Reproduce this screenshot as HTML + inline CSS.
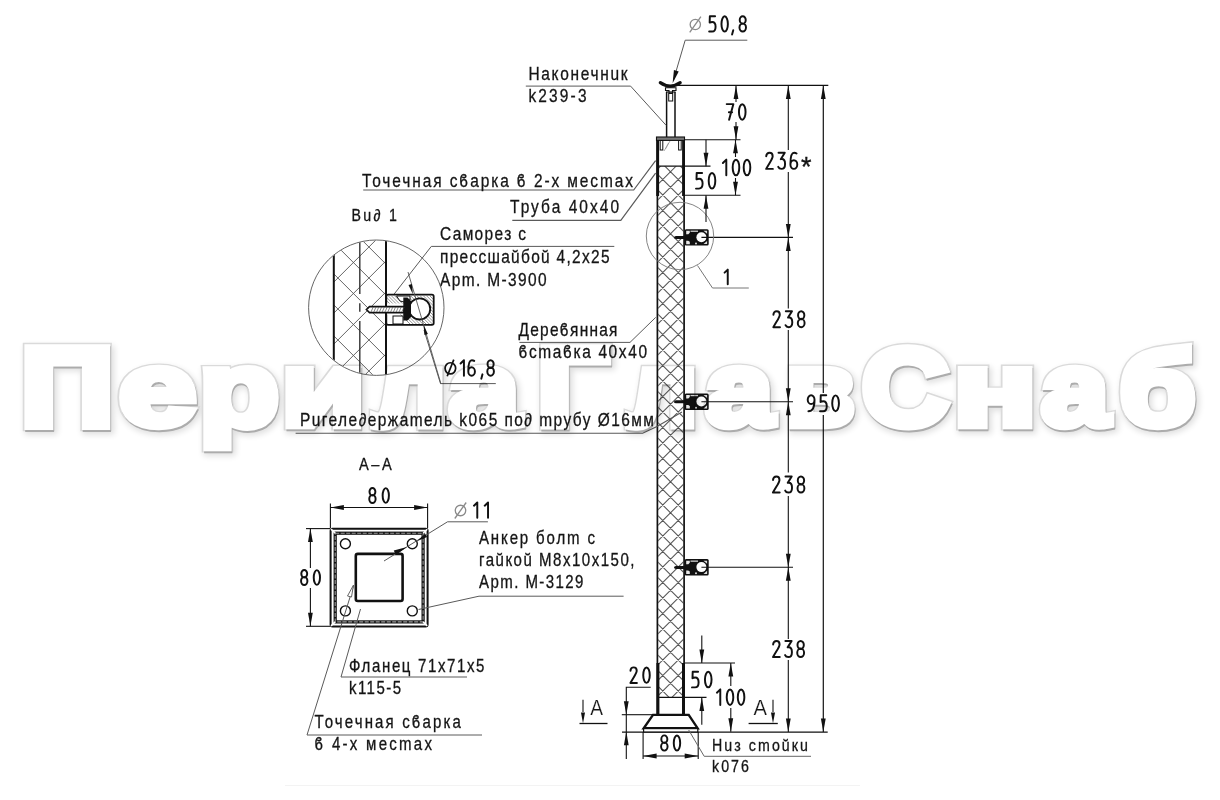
<!DOCTYPE html><html><head><meta charset="utf-8"><style>html,body{margin:0;padding:0;background:#fff;}svg{display:block;}text{font-family:"Liberation Sans",sans-serif;}</style></head><body><svg width="1220" height="800" viewBox="0 0 1220 800" font-family="Liberation Sans, sans-serif">
<rect width="1220" height="800" fill="#fff"/>
<defs><filter id="blur" x="-10%" y="-10%" width="120%" height="120%"><feGaussianBlur stdDeviation="3"/></filter></defs>
<defs><clipPath id="postclip"><rect x="658.2" y="166.2" width="25.2" height="231.2"/><rect x="658.2" y="397" width="25.2" height="300.4"/></clipPath>
<clipPath id="detclip"><circle cx="376.3" cy="307.7" r="67.2"/></clipPath></defs>
<path d="M335.3,166 L-198.7,700 M650,-189.7 L690,-149.7 M350.8,166 L-183.2,700 M650,-174.2 L690,-134.2 M366.3,166 L-167.7,700 M650,-158.7 L690,-118.7 M381.8,166 L-152.2,700 M650,-143.2 L690,-103.2 M397.3,166 L-136.7,700 M650,-127.7 L690,-87.7 M412.8,166 L-121.2,700 M650,-112.2 L690,-72.2 M428.3,166 L-105.7,700 M650,-96.7 L690,-56.7 M443.8,166 L-90.2,700 M650,-81.2 L690,-41.2 M459.3,166 L-74.7,700 M650,-65.7 L690,-25.7 M474.8,166 L-59.2,700 M650,-50.2 L690,-10.2 M490.3,166 L-43.7,700 M650,-34.7 L690,5.3 M505.8,166 L-28.2,700 M650,-19.2 L690,20.8 M521.3,166 L-12.7,700 M650,-3.7 L690,36.3 M536.8,166 L2.8,700 M650,11.8 L690,51.8 M552.3,166 L18.3,700 M650,27.3 L690,67.3 M567.8,166 L33.8,700 M650,42.8 L690,82.8 M583.3,166 L49.3,700 M650,58.3 L690,98.3 M598.8,166 L64.8,700 M650,73.8 L690,113.8 M614.3,166 L80.3,700 M650,89.3 L690,129.3 M629.8,166 L95.8,700 M650,104.8 L690,144.8 M645.3,166 L111.3,700 M650,120.3 L690,160.3 M660.8,166 L126.8,700 M650,135.8 L690,175.8 M676.3,166 L142.3,700 M650,151.3 L690,191.3 M691.8,166 L157.8,700 M650,166.8 L690,206.8 M707.3,166 L173.3,700 M650,182.3 L690,222.3 M722.8,166 L188.8,700 M650,197.8 L690,237.8 M738.3,166 L204.3,700 M650,213.3 L690,253.3 M753.8,166 L219.8,700 M650,228.8 L690,268.8 M769.3,166 L235.3,700 M650,244.3 L690,284.3 M784.8,166 L250.8,700 M650,259.8 L690,299.8 M800.3,166 L266.3,700 M650,275.3 L690,315.3 M815.8,166 L281.8,700 M650,290.8 L690,330.8 M831.3,166 L297.3,700 M650,306.3 L690,346.3 M846.8,166 L312.8,700 M650,321.8 L690,361.8 M862.3,166 L328.3,700 M650,337.3 L690,377.3 M877.8,166 L343.8,700 M650,352.8 L690,392.8 M893.3,166 L359.3,700 M650,368.3 L690,408.3 M908.8,166 L374.8,700 M650,383.8 L690,423.8 M924.3,166 L390.3,700 M650,399.3 L690,439.3 M939.8,166 L405.8,700 M650,414.8 L690,454.8 M955.3,166 L421.3,700 M650,430.3 L690,470.3 M970.8,166 L436.8,700 M650,445.8 L690,485.8 M986.3,166 L452.3,700 M650,461.3 L690,501.3 M1001.8,166 L467.8,700 M650,476.8 L690,516.8 M1017.3,166 L483.3,700 M650,492.3 L690,532.3 M1032.8,166 L498.8,700 M650,507.8 L690,547.8 M1048.3,166 L514.3,700 M650,523.3 L690,563.3 M1063.8,166 L529.8,700 M650,538.8 L690,578.8 M1079.3,166 L545.3,700 M650,554.3 L690,594.3 M1094.8,166 L560.8,700 M650,569.8 L690,609.8 M1110.3,166 L576.3,700 M650,585.3 L690,625.3 M1125.8,166 L591.8,700 M650,600.8 L690,640.8 M1141.3,166 L607.3,700 M650,616.3 L690,656.3 M1156.8,166 L622.8,700 M650,631.8 L690,671.8 M1172.3,166 L638.3,700 M650,647.3 L690,687.3 M1187.8,166 L653.8,700 M650,662.8 L690,702.8 M1203.3,166 L669.3,700 M650,678.3 L690,718.3 M1218.8,166 L684.8,700 M650,693.8 L690,733.8 M1234.3,166 L700.3,700 M650,709.3 L690,749.3 M1249.8,166 L715.8,700 M650,724.8 L690,764.8 M1265.3,166 L731.3,700 M650,740.3 L690,780.3 M1280.8,166 L746.8,700 M650,755.8 L690,795.8 M1296.3,166 L762.3,700 M650,771.3 L690,811.3 M1311.8,166 L777.8,700 M650,786.8 L690,826.8 M1327.3,166 L793.3,700 M650,802.3 L690,842.3 M1342.8,166 L808.8,700 M650,817.8 L690,857.8 M1358.3,166 L824.3,700 M650,833.3 L690,873.3 M1373.8,166 L839.8,700 M650,848.8 L690,888.8 M1389.3,166 L855.3,700 M650,864.3 L690,904.3 M1404.8,166 L870.8,700 M650,879.8 L690,919.8 M1420.3,166 L886.3,700 M650,895.3 L690,935.3 M1435.8,166 L901.8,700 M650,910.8 L690,950.8 M1451.3,166 L917.3,700 M650,926.3 L690,966.3 M1466.8,166 L932.8,700 M650,941.8 L690,981.8 M1482.3,166 L948.3,700 M650,957.3 L690,997.3 M1497.8,166 L963.8,700 M650,972.8 L690,1012.8 M1513.3,166 L979.3,700 M650,988.3 L690,1028.3 M1528.8,166 L994.8,700 M650,1003.8 L690,1043.8 M1544.3,166 L1010.3,700 M650,1019.3 L690,1059.3 M1559.8,166 L1025.8,700 M650,1034.8 L690,1074.8" stroke="#555" stroke-width="1.05" fill="none" clip-path="url(#postclip)"/>
<line x1="657.4" y1="137" x2="657.4" y2="731" stroke="#111" stroke-width="1.7" />
<line x1="684.1" y1="137" x2="684.1" y2="731" stroke="#111" stroke-width="1.7" />
<rect x="656.2" y="137" width="2.9" height="59" fill="#111"/>
<rect x="682.1" y="137" width="2.9" height="59" fill="#111"/>
<rect x="656.4" y="663" width="3" height="52" fill="#111"/>
<rect x="682" y="663" width="3" height="52" fill="#111"/>
<rect x="656.5" y="137" width="28" height="3.4" fill="#777" stroke="#111" stroke-width="1.1"/>
<rect x="660.2" y="140.5" width="2.6" height="9.5" fill="none" stroke="#111" stroke-width="1"/>
<rect x="678.6" y="140.5" width="2.6" height="9.5" fill="none" stroke="#111" stroke-width="1"/>
<line x1="670" y1="141" x2="664" y2="151" stroke="#888" stroke-width="0.7" />
<line x1="668.5" y1="143" x2="665.5" y2="149" stroke="#888" stroke-width="0.7" />
<line x1="657.4" y1="166.2" x2="710.5" y2="166.2" stroke="#111" stroke-width="1.2" />
<line x1="657.4" y1="697.4" x2="706.5" y2="697.4" stroke="#111" stroke-width="1.2" />
<line x1="685" y1="139.8" x2="740.5" y2="139.8" stroke="#111" stroke-width="1.1" />
<line x1="685" y1="195.2" x2="740.5" y2="195.2" stroke="#111" stroke-width="1.1" />
<line x1="685" y1="663" x2="735" y2="663" stroke="#111" stroke-width="1.1" />
<line x1="666.6" y1="92" x2="666.6" y2="137" stroke="#111" stroke-width="1.5" />
<line x1="675" y1="92" x2="675" y2="137" stroke="#111" stroke-width="1.5" />
<path d="M660.3,82.6 Q670.3,89.5 680.2,82.6" fill="none" stroke="#111" stroke-width="3.2" stroke-linecap="round"/>
<path d="M665.5,87.8 L676,87.8 L676,90.5 L672.5,90.5 L672.5,93 L669,93 L669,90.5 L665.5,90.5 Z" fill="none" stroke="#111" stroke-width="1.1"/>
<rect x="668.7" y="93.5" width="4" height="7.5" fill="none" stroke="#111" stroke-width="1"/>
<line x1="666" y1="92" x2="675.5" y2="92" stroke="#111" stroke-width="1.2" />
<rect x="684.6" y="229.2" width="24.1" height="16.4" rx="1.5" fill="#111"/>
<circle cx="701.4" cy="237.2" r="5" fill="#fff"/>
<path d="M686.2,230.8 l3.6,0 l0,2 l-1.5,1.5 l-2.1,0 z M686.2,244.2 l3.6,0 l0,-2.5 l-1.6,-1 l-2,0 z" fill="#e8e8e8"/>
<rect x="690.5" y="230.6" width="7.5" height="1.3" fill="#cfcfcf"/>
<circle cx="696" cy="243.4" r="1" fill="#ddd"/>
<path d="M703.5,230.8 l3.6,0 l0,3 z M707.1,240.9 l0,3.2 l-3.6,0 z" fill="#ddd"/>
<path d="M674,237.6 Q674,236.1 676,236 L685,236 L685,239 L676,239 Q674,239 674,237.6 Z" fill="#111"/>
<line x1="701.4" y1="237.4" x2="793" y2="237.4" stroke="#111" stroke-width="1.1" />
<rect x="684.6" y="393.5" width="24.1" height="16.4" rx="1.5" fill="#111"/>
<circle cx="701.4" cy="401.5" r="5" fill="#fff"/>
<path d="M686.2,395.1 l3.6,0 l0,2 l-1.5,1.5 l-2.1,0 z M686.2,408.5 l3.6,0 l0,-2.5 l-1.6,-1 l-2,0 z" fill="#e8e8e8"/>
<rect x="690.5" y="394.9" width="7.5" height="1.3" fill="#cfcfcf"/>
<circle cx="696" cy="407.7" r="1" fill="#ddd"/>
<path d="M703.5,395.1 l3.6,0 l0,3 z M707.1,405.2 l0,3.2 l-3.6,0 z" fill="#ddd"/>
<path d="M674,401.9 Q674,400.4 676,400.3 L685,400.3 L685,403.3 L676,403.3 Q674,403.3 674,401.9 Z" fill="#111"/>
<line x1="701.4" y1="401.7" x2="793" y2="401.7" stroke="#111" stroke-width="1.1" />
<rect x="684.6" y="559.1" width="24.1" height="16.4" rx="1.5" fill="#111"/>
<circle cx="701.4" cy="567.1" r="5" fill="#fff"/>
<path d="M686.2,560.7 l3.6,0 l0,2 l-1.5,1.5 l-2.1,0 z M686.2,574.1 l3.6,0 l0,-2.5 l-1.6,-1 l-2,0 z" fill="#e8e8e8"/>
<rect x="690.5" y="560.5" width="7.5" height="1.3" fill="#cfcfcf"/>
<circle cx="696" cy="573.3" r="1" fill="#ddd"/>
<path d="M703.5,560.7 l3.6,0 l0,3 z M707.1,570.8 l0,3.2 l-3.6,0 z" fill="#ddd"/>
<path d="M674,567.5 Q674,566 676,565.9 L685,565.9 L685,568.9 L676,568.9 Q674,568.9 674,567.5 Z" fill="#111"/>
<line x1="701.4" y1="567.3" x2="793" y2="567.3" stroke="#111" stroke-width="1.1" />
<circle cx="680" cy="236" r="33.7" fill="none" stroke="#777" stroke-width="0.9"/>
<polyline points="697.5,265.5 712.5,288 748.8,288" fill="none" stroke="#777" stroke-width="1" />
<g fill="none" stroke="#111" stroke-linecap="round" stroke-linejoin="round"><path transform="translate(722.54,268.75) scale(0.9286)" d="M2.2,4.2 L5.6,0.9 L5.6,16.6" stroke-width="2.100"/></g>
<line x1="672" y1="85.4" x2="828.3" y2="85.4" stroke="#111" stroke-width="1.2" />
<line x1="736" y1="85.4" x2="736" y2="102" stroke="#111" stroke-width="1.1" />
<line x1="736" y1="122" x2="736" y2="139.8" stroke="#111" stroke-width="1.1" />
<polygon points="736,85.4 738.4,98.9 733.6,98.9" fill="#111" stroke="none" stroke-width="0" />
<polygon points="736,139.8 733.6,126.3 738.4,126.3" fill="#111" stroke="none" stroke-width="0" />
<g fill="none" stroke="#111" stroke-linecap="round" stroke-linejoin="round"><path transform="translate(725.8,103.2) scale(1.0000)" d="M0.9,0.9 L7.6,0.9 L3.3,16.6 M3.1,9.0 L6.3,9.0" stroke-width="1.950"/><path transform="translate(738,103.2) scale(1.0000)" d="M0.95,8.75 A3.30,7.80 0 1 0 7.55,8.75 A3.30,7.80 0 1 0 0.95,8.75 Z" stroke-width="1.950"/></g>
<line x1="735.5" y1="139.8" x2="735.5" y2="157" stroke="#111" stroke-width="1.1" />
<line x1="735.5" y1="178" x2="735.5" y2="195.2" stroke="#111" stroke-width="1.1" />
<polygon points="735.5,139.8 737.9,153.3 733.1,153.3" fill="#111" stroke="none" stroke-width="0" />
<polygon points="735.5,195.2 733.1,181.7 737.9,181.7" fill="#111" stroke="none" stroke-width="0" />
<g fill="none" stroke="#111" stroke-linecap="round" stroke-linejoin="round"><path transform="translate(720.7,158.75) scale(1.0000)" d="M2.2,4.2 L5.6,0.9 L5.6,16.6" stroke-width="1.950"/><path transform="translate(731.73,158.75) scale(1.0000)" d="M0.95,8.75 A3.30,7.80 0 1 0 7.55,8.75 A3.30,7.80 0 1 0 0.95,8.75 Z" stroke-width="1.950"/><path transform="translate(742.75,158.75) scale(1.0000)" d="M0.95,8.75 A3.30,7.80 0 1 0 7.55,8.75 A3.30,7.80 0 1 0 0.95,8.75 Z" stroke-width="1.950"/></g>
<line x1="706" y1="139.8" x2="706" y2="166.2" stroke="#111" stroke-width="1.1" />
<line x1="706" y1="195.2" x2="706" y2="222" stroke="#111" stroke-width="1.1" />
<polygon points="706,166.2 703.6,152.7 708.4,152.7" fill="#111" stroke="none" stroke-width="0" />
<polygon points="706,195.2 708.4,208.7 703.6,208.7" fill="#111" stroke="none" stroke-width="0" />
<g fill="none" stroke="#111" stroke-linecap="round" stroke-linejoin="round"><path transform="translate(695,172) scale(1.0000)" d="M7.1,0.9 L1.7,0.9 L1.5,7.4 C2.3,7.0 3.2,6.8 4.1,6.8 C6.3,6.8 7.6,8.8 7.6,11.6 C7.6,14.8 6.0,16.6 4.0,16.6 L1.0,16.6" stroke-width="1.950"/><path transform="translate(707.75,172) scale(1.0000)" d="M0.95,8.75 A3.30,7.80 0 1 0 7.55,8.75 A3.30,7.80 0 1 0 0.95,8.75 Z" stroke-width="1.950"/></g>
<line x1="788.3" y1="85.4" x2="788.3" y2="150" stroke="#111" stroke-width="1.1" />
<line x1="788.3" y1="172" x2="788.3" y2="308.5" stroke="#111" stroke-width="1.1" />
<line x1="788.3" y1="330" x2="788.3" y2="472.5" stroke="#111" stroke-width="1.1" />
<line x1="788.3" y1="496" x2="788.3" y2="639" stroke="#111" stroke-width="1.1" />
<line x1="788.3" y1="660" x2="788.3" y2="732" stroke="#111" stroke-width="1.1" />
<polygon points="788.3,85.4 790.7,98.9 785.9,98.9" fill="#111" stroke="none" stroke-width="0" />
<polygon points="788.3,237.4 785.9,223.9 790.7,223.9" fill="#111" stroke="none" stroke-width="0" />
<polygon points="788.3,237.4 790.7,250.9 785.9,250.9" fill="#111" stroke="none" stroke-width="0" />
<polygon points="788.3,401.7 785.9,388.2 790.7,388.2" fill="#111" stroke="none" stroke-width="0" />
<polygon points="788.3,401.7 790.7,415.2 785.9,415.2" fill="#111" stroke="none" stroke-width="0" />
<polygon points="788.3,567.3 785.9,553.8 790.7,553.8" fill="#111" stroke="none" stroke-width="0" />
<polygon points="788.3,567.3 790.7,580.8 785.9,580.8" fill="#111" stroke="none" stroke-width="0" />
<polygon points="788.3,732 785.9,718.5 790.7,718.5" fill="#111" stroke="none" stroke-width="0" />
<g fill="none" stroke="#111" stroke-linecap="round" stroke-linejoin="round"><path transform="translate(765.1,151.9) scale(1.0229)" d="M1.1,4.3 C1.1,2.0 2.5,0.9 4.3,0.9 C6.2,0.9 7.4,2.2 7.4,4.2 C7.4,6.6 5.6,8.6 1.0,16.6 L7.6,16.6" stroke-width="1.906"/><path transform="translate(777.3,151.9) scale(1.0229)" d="M1.2,0.9 L7.3,0.9 L3.4,7.1 C3.8,7.0 4.1,7.0 4.4,7.0 C6.5,7.0 7.6,9.0 7.6,11.8 C7.6,14.8 6.0,16.6 4.1,16.6 C2.7,16.6 1.5,16.0 0.9,14.6" stroke-width="1.906"/><path transform="translate(789.51,151.9) scale(1.0229)" d="M6.9,1.6 C6.2,1.1 5.3,0.9 4.5,0.9 C2.2,0.9 0.9,4.5 0.9,11.6 M0.90,12.35 A3.35,4.25 0 1 0 7.60,12.35 A3.35,4.25 0 1 0 0.90,12.35 Z" stroke-width="1.906"/></g>
<text x="801" y="175.8" font-size="27" fill="#151515" stroke="#151515" stroke-width="0.35">*</text>
<g fill="none" stroke="#111" stroke-linecap="round" stroke-linejoin="round"><path transform="translate(772.3,310.4) scale(1.0114)" d="M1.1,4.3 C1.1,2.0 2.5,0.9 4.3,0.9 C6.2,0.9 7.4,2.2 7.4,4.2 C7.4,6.6 5.6,8.6 1.0,16.6 L7.6,16.6" stroke-width="1.928"/><path transform="translate(784.6,310.4) scale(1.0114)" d="M1.2,0.9 L7.3,0.9 L3.4,7.1 C3.8,7.0 4.1,7.0 4.4,7.0 C6.5,7.0 7.6,9.0 7.6,11.8 C7.6,14.8 6.0,16.6 4.1,16.6 C2.7,16.6 1.5,16.0 0.9,14.6" stroke-width="1.928"/><path transform="translate(796.9,310.4) scale(1.0114)" d="M1.15,4.80 A3.10,3.90 0 1 0 7.35,4.80 A3.10,3.90 0 1 0 1.15,4.80 Z M0.90,12.45 A3.35,4.15 0 1 0 7.60,12.45 A3.35,4.15 0 1 0 0.90,12.45 Z" stroke-width="1.928"/></g>
<g fill="none" stroke="#111" stroke-linecap="round" stroke-linejoin="round"><path transform="translate(771.9,475.6) scale(1.0229)" d="M1.1,4.3 C1.1,2.0 2.5,0.9 4.3,0.9 C6.2,0.9 7.4,2.2 7.4,4.2 C7.4,6.6 5.6,8.6 1.0,16.6 L7.6,16.6" stroke-width="1.906"/><path transform="translate(784.25,475.6) scale(1.0229)" d="M1.2,0.9 L7.3,0.9 L3.4,7.1 C3.8,7.0 4.1,7.0 4.4,7.0 C6.5,7.0 7.6,9.0 7.6,11.8 C7.6,14.8 6.0,16.6 4.1,16.6 C2.7,16.6 1.5,16.0 0.9,14.6" stroke-width="1.906"/><path transform="translate(796.61,475.6) scale(1.0229)" d="M1.15,4.80 A3.10,3.90 0 1 0 7.35,4.80 A3.10,3.90 0 1 0 1.15,4.80 Z M0.90,12.45 A3.35,4.15 0 1 0 7.60,12.45 A3.35,4.15 0 1 0 0.90,12.45 Z" stroke-width="1.906"/></g>
<g fill="none" stroke="#111" stroke-linecap="round" stroke-linejoin="round"><path transform="translate(772,640.1) scale(1.0229)" d="M1.1,4.3 C1.1,2.0 2.5,0.9 4.3,0.9 C6.2,0.9 7.4,2.2 7.4,4.2 C7.4,6.6 5.6,8.6 1.0,16.6 L7.6,16.6" stroke-width="1.906"/><path transform="translate(784.15,640.1) scale(1.0229)" d="M1.2,0.9 L7.3,0.9 L3.4,7.1 C3.8,7.0 4.1,7.0 4.4,7.0 C6.5,7.0 7.6,9.0 7.6,11.8 C7.6,14.8 6.0,16.6 4.1,16.6 C2.7,16.6 1.5,16.0 0.9,14.6" stroke-width="1.906"/><path transform="translate(796.31,640.1) scale(1.0229)" d="M1.15,4.80 A3.10,3.90 0 1 0 7.35,4.80 A3.10,3.90 0 1 0 1.15,4.80 Z M0.90,12.45 A3.35,4.15 0 1 0 7.60,12.45 A3.35,4.15 0 1 0 0.90,12.45 Z" stroke-width="1.906"/></g>
<line x1="823.3" y1="85.4" x2="823.3" y2="393" stroke="#111" stroke-width="1.2" />
<line x1="823.3" y1="415" x2="823.3" y2="732" stroke="#111" stroke-width="1.2" />
<polygon points="823.3,85.4 825.7,98.9 820.9,98.9" fill="#111" stroke="none" stroke-width="0" />
<polygon points="823.3,732 820.9,718.5 825.7,718.5" fill="#111" stroke="none" stroke-width="0" />
<g fill="none" stroke="#111" stroke-linecap="round" stroke-linejoin="round"><path transform="translate(806.8,394.4) scale(1.0171)" d="M0.90,5.15 A3.35,4.25 0 1 0 7.60,5.15 A3.35,4.25 0 1 0 0.90,5.15 Z M7.6,5.2 C7.6,12.5 5.8,16.6 1.6,16.6" stroke-width="1.917"/><path transform="translate(819.03,394.4) scale(1.0171)" d="M7.1,0.9 L1.7,0.9 L1.5,7.4 C2.3,7.0 3.2,6.8 4.1,6.8 C6.3,6.8 7.6,8.8 7.6,11.6 C7.6,14.8 6.0,16.6 4.0,16.6 L1.0,16.6" stroke-width="1.917"/><path transform="translate(831.25,394.4) scale(1.0171)" d="M0.95,8.75 A3.30,7.80 0 1 0 7.55,8.75 A3.30,7.80 0 1 0 0.95,8.75 Z" stroke-width="1.917"/></g>
<line x1="622" y1="732.2" x2="827.7" y2="732.2" stroke="#111" stroke-width="1.2" />
<polygon points="653,714.9 688.7,714.9 697.6,728.2 643.7,728.2" fill="#fff" stroke="#111" stroke-width="2.4" />
<rect x="643.6" y="728.6" width="54.2" height="3.4" fill="#fff" stroke="#111" stroke-width="1.2"/>
<line x1="701.8" y1="635.6" x2="701.8" y2="663" stroke="#111" stroke-width="1.1" />
<line x1="701.8" y1="697.4" x2="701.8" y2="724.7" stroke="#111" stroke-width="1.1" />
<polygon points="701.8,663 699.4,649.5 704.2,649.5" fill="#111" stroke="none" stroke-width="0" />
<polygon points="701.8,697.4 704.2,710.9 699.4,710.9" fill="#111" stroke="none" stroke-width="0" />
<g fill="none" stroke="#111" stroke-linecap="round" stroke-linejoin="round"><path transform="translate(691,670.8) scale(1.0000)" d="M7.1,0.9 L1.7,0.9 L1.5,7.4 C2.3,7.0 3.2,6.8 4.1,6.8 C6.3,6.8 7.6,8.8 7.6,11.6 C7.6,14.8 6.0,16.6 4.0,16.6 L1.0,16.6" stroke-width="1.950"/><path transform="translate(704,670.8) scale(1.0000)" d="M0.95,8.75 A3.30,7.80 0 1 0 7.55,8.75 A3.30,7.80 0 1 0 0.95,8.75 Z" stroke-width="1.950"/></g>
<line x1="730.8" y1="663" x2="730.8" y2="686" stroke="#111" stroke-width="1.1" />
<line x1="730.8" y1="708" x2="730.8" y2="731.8" stroke="#111" stroke-width="1.1" />
<polygon points="730.8,663 733.2,676.5 728.4,676.5" fill="#111" stroke="none" stroke-width="0" />
<polygon points="730.8,731.8 728.4,718.3 733.2,718.3" fill="#111" stroke="none" stroke-width="0" />
<g fill="none" stroke="#111" stroke-linecap="round" stroke-linejoin="round"><path transform="translate(714.71,688.5) scale(0.9943)" d="M2.2,4.2 L5.6,0.9 L5.6,16.6" stroke-width="1.961"/><path transform="translate(725.78,688.5) scale(0.9943)" d="M0.95,8.75 A3.30,7.80 0 1 0 7.55,8.75 A3.30,7.80 0 1 0 0.95,8.75 Z" stroke-width="1.961"/><path transform="translate(736.85,688.5) scale(0.9943)" d="M0.95,8.75 A3.30,7.80 0 1 0 7.55,8.75 A3.30,7.80 0 1 0 0.95,8.75 Z" stroke-width="1.961"/></g>
<line x1="621.8" y1="714.7" x2="653" y2="714.7" stroke="#111" stroke-width="1.1" />
<polyline points="650.7,687.2 626.3,687.2 626.3,714.7" fill="none" stroke="#111" stroke-width="1.1" />
<polygon points="626.3,714.7 623.9,701.2 628.7,701.2" fill="#111" stroke="none" stroke-width="0" />
<line x1="626.3" y1="714.7" x2="626.3" y2="759" stroke="#111" stroke-width="1.1" />
<polygon points="626.3,731.8 628.7,745.3 623.9,745.3" fill="#111" stroke="none" stroke-width="0" />
<g fill="none" stroke="#111" stroke-linecap="round" stroke-linejoin="round"><path transform="translate(629.4,666.5) scale(0.9886)" d="M1.1,4.3 C1.1,2.0 2.5,0.9 4.3,0.9 C6.2,0.9 7.4,2.2 7.4,4.2 C7.4,6.6 5.6,8.6 1.0,16.6 L7.6,16.6" stroke-width="1.973"/><path transform="translate(642.3,666.5) scale(0.9886)" d="M0.95,8.75 A3.30,7.80 0 1 0 7.55,8.75 A3.30,7.80 0 1 0 0.95,8.75 Z" stroke-width="1.973"/></g>
<line x1="579.5" y1="723.5" x2="607.5" y2="723.5" stroke="#111" stroke-width="1.3" />
<line x1="583" y1="699.7" x2="583" y2="712" stroke="#111" stroke-width="1.1" />
<polygon points="583,723.5 581,712.5 585,712.5" fill="#111" stroke="none" stroke-width="0" />
<text x="590.2" y="714.5" font-size="22" fill="#151515" stroke="#fff" stroke-width="0.2" textLength="12.8" lengthAdjust="spacingAndGlyphs" >А</text>
<line x1="748.6" y1="723.5" x2="777.8" y2="723.5" stroke="#111" stroke-width="1.3" />
<line x1="773" y1="699.7" x2="773" y2="712" stroke="#111" stroke-width="1.1" />
<polygon points="773,723.5 771,712.5 775,712.5" fill="#111" stroke="none" stroke-width="0" />
<text x="753.5" y="714.5" font-size="22" fill="#151515" stroke="#fff" stroke-width="0.2" textLength="13.5" lengthAdjust="spacingAndGlyphs" >А</text>
<line x1="643.1" y1="732" x2="643.1" y2="759" stroke="#111" stroke-width="1.1" />
<line x1="698.2" y1="732" x2="698.2" y2="759" stroke="#111" stroke-width="1.1" />
<line x1="643.1" y1="756" x2="698.2" y2="756" stroke="#111" stroke-width="1.1" />
<polygon points="643.1,756 656.6,753.6 656.6,758.4" fill="#111" stroke="none" stroke-width="0" />
<polygon points="698.2,756 684.7,758.4 684.7,753.6" fill="#111" stroke="none" stroke-width="0" />
<g fill="none" stroke="#111" stroke-linecap="round" stroke-linejoin="round"><path transform="translate(660.2,734.5) scale(0.9714)" d="M1.15,4.80 A3.10,3.90 0 1 0 7.35,4.80 A3.10,3.90 0 1 0 1.15,4.80 Z M0.90,12.45 A3.35,4.15 0 1 0 7.60,12.45 A3.35,4.15 0 1 0 0.90,12.45 Z" stroke-width="2.007"/><path transform="translate(672.84,734.5) scale(0.9714)" d="M0.95,8.75 A3.30,7.80 0 1 0 7.55,8.75 A3.30,7.80 0 1 0 0.95,8.75 Z" stroke-width="2.007"/></g>
<polyline points="688.7,730 704.2,756.3 811,756.3" fill="none" stroke="#666" stroke-width="1" />
<text transform="translate(712,750.8) scale(0.86,1)" x="0" y="0" font-size="16.5" fill="#151515" stroke="#151515" stroke-width="0.3" textLength="111.63" lengthAdjust="spacing" >Нuз сmоŭкu</text>
<text transform="translate(712,771.5) scale(0.86,1)" x="0" y="0" font-size="16.5" fill="#151515" stroke="#151515" stroke-width="0.3" textLength="43.02" lengthAdjust="spacing" >k076</text>
<circle cx="695.3" cy="24.5" r="5.15" fill="none" stroke="#8a8a8a" stroke-width="1.3"/>
<line x1="700.9" y1="16.6" x2="689.7" y2="32.4" stroke="#8a8a8a" stroke-width="1.3" />
<g fill="none" stroke="#111" stroke-linecap="round" stroke-linejoin="round"><path transform="translate(708.2,15.4) scale(0.9714)" d="M7.1,0.9 L1.7,0.9 L1.5,7.4 C2.3,7.0 3.2,6.8 4.1,6.8 C6.3,6.8 7.6,8.8 7.6,11.6 C7.6,14.8 6.0,16.6 4.0,16.6 L1.0,16.6" stroke-width="2.007"/><path transform="translate(720.54,15.4) scale(0.9714)" d="M0.95,8.75 A3.30,7.80 0 1 0 7.55,8.75 A3.30,7.80 0 1 0 0.95,8.75 Z" stroke-width="2.007"/></g>
<path transform="translate(731.3,15.4) scale(0.9714)" d="M2.0,15.2 L0.8,19.6" fill="none" stroke="#111" stroke-width="2.007" stroke-linecap="round" stroke-linejoin="round"/>
<path transform="translate(738.6,15.4) scale(0.9714)" d="M1.15,4.80 A3.10,3.90 0 1 0 7.35,4.80 A3.10,3.90 0 1 0 1.15,4.80 Z M0.90,12.45 A3.35,4.15 0 1 0 7.60,12.45 A3.35,4.15 0 1 0 0.90,12.45 Z" fill="none" stroke="#111" stroke-width="2.007" stroke-linecap="round" stroke-linejoin="round"/>
<polyline points="747.3,40.2 685.2,40.2 673.5,80" fill="none" stroke="#5a5a5a" stroke-width="1" />
<polygon points="672.6,83.2 673.94,70.03 678.73,71.47" fill="#111" stroke="none" stroke-width="0" />
<polyline points="630.6,86.1 525.8,86.1" fill="none" stroke="#5a5a5a" stroke-width="1" />
<line x1="630.6" y1="86.1" x2="666" y2="125.2" stroke="#5a5a5a" stroke-width="1" />
<text transform="translate(528.5,80) scale(0.86,1)" x="0" y="0" font-size="18" fill="#151515" stroke="#151515" stroke-width="0.3" textLength="115.12" lengthAdjust="spacing" >Наконечнuк</text>
<text transform="translate(528.5,102.4) scale(0.86,1)" x="0" y="0" font-size="18" fill="#151515" stroke="#151515" stroke-width="0.3" textLength="67.44" lengthAdjust="spacing" >k239-3</text>
<polyline points="363.2,190 633.7,190 655.6,160.6" fill="none" stroke="#5a5a5a" stroke-width="1.2" />
<text transform="translate(362,186.7) scale(0.86,1)" x="0" y="0" font-size="18" fill="#151515" stroke="#151515" stroke-width="0.3" textLength="315.12" lengthAdjust="spacing" >Точечная сϐарка ϐ 2-х месmах</text>
<polyline points="512.3,220.4 620.8,220.4 655.6,173.1" fill="none" stroke="#5a5a5a" stroke-width="1.2" />
<text transform="translate(510,212.6) scale(0.86,1)" x="0" y="0" font-size="18" fill="#151515" stroke="#151515" stroke-width="0.3" textLength="126.74" lengthAdjust="spacing" >Труба 40x40</text>
<text transform="translate(351.5,221) scale(0.86,1)" x="0" y="0" font-size="16.5" fill="#151515" stroke="#151515" stroke-width="0.3" textLength="52.91" lengthAdjust="spacing" >Вu∂ 1</text>
<polyline points="614.3,246.4 431.3,246.4 392,296.8" fill="none" stroke="#5a5a5a" stroke-width="1" />
<text transform="translate(440,240) scale(0.86,1)" x="0" y="0" font-size="18" fill="#151515" stroke="#151515" stroke-width="0.3" textLength="100" lengthAdjust="spacing" >Саморез с</text>
<text transform="translate(440,263.3) scale(0.86,1)" x="0" y="0" font-size="18" fill="#151515" stroke="#151515" stroke-width="0.3" textLength="197.09" lengthAdjust="spacing" >прессшаŭбоŭ 4,2x25</text>
<text transform="translate(440,285.6) scale(0.86,1)" x="0" y="0" font-size="18" fill="#151515" stroke="#151515" stroke-width="0.3" textLength="123.84" lengthAdjust="spacing" >Арm. М-3900</text>
<polyline points="519.4,342.4 630,342.4 655.7,317.4" fill="none" stroke="#5a5a5a" stroke-width="1" />
<text transform="translate(518.5,335.9) scale(0.86,1)" x="0" y="0" font-size="18" fill="#151515" stroke="#151515" stroke-width="0.3" textLength="115.12" lengthAdjust="spacing" >Дереϐянная</text>
<text transform="translate(518.5,358.4) scale(0.86,1)" x="0" y="0" font-size="18" fill="#151515" stroke="#151515" stroke-width="0.3" textLength="149.42" lengthAdjust="spacing" >ϐсmаϐка 40x40</text>
<polyline points="495.8,383.6 440.5,383.6 424,330" fill="none" stroke="#5a5a5a" stroke-width="1" />
<ellipse cx="450.35" cy="368.35" rx="5.3" ry="5.6" fill="none" stroke="#111" stroke-width="1.7"/>
<line x1="453.8" y1="359.6" x2="447.2" y2="376.2" stroke="#111" stroke-width="1.7" />
<path transform="translate(458.4,359.3) scale(0.9886)" d="M2.2,4.2 L5.6,0.9 L5.6,16.6" fill="none" stroke="#111" stroke-width="1.973" stroke-linecap="round" stroke-linejoin="round"/>
<path transform="translate(467.4,359.3) scale(0.9886)" d="M6.9,1.6 C6.2,1.1 5.3,0.9 4.5,0.9 C2.2,0.9 0.9,4.5 0.9,11.6 M0.90,12.35 A3.35,4.25 0 1 0 7.60,12.35 A3.35,4.25 0 1 0 0.90,12.35 Z" fill="none" stroke="#111" stroke-width="1.973" stroke-linecap="round" stroke-linejoin="round"/>
<path transform="translate(480.5,359.3) scale(0.9886)" d="M2.0,15.2 L0.8,19.6" fill="none" stroke="#111" stroke-width="1.973" stroke-linecap="round" stroke-linejoin="round"/>
<path transform="translate(486.4,359.3) scale(0.9886)" d="M1.15,4.80 A3.10,3.90 0 1 0 7.35,4.80 A3.10,3.90 0 1 0 1.15,4.80 Z M0.90,12.45 A3.35,4.15 0 1 0 7.60,12.45 A3.35,4.15 0 1 0 0.90,12.45 Z" fill="none" stroke="#111" stroke-width="1.973" stroke-linecap="round" stroke-linejoin="round"/>
<polyline points="295.6,433.2 642.7,433.2 657,426.5 682,412" fill="none" stroke="#5a5a5a" stroke-width="1.1" />
<text transform="translate(300,426.1) scale(0.86,1)" x="0" y="0" font-size="18" fill="#151515" stroke="#151515" stroke-width="0.3" textLength="411.63" lengthAdjust="spacing" >Рuгеле∂ержаmель k065 по∂ mрубу Ø16мм</text>
<circle cx="376.3" cy="307.7" r="67.7" fill="none" stroke="#555" stroke-width="0.9"/>
<g clip-path="url(#detclip)"><clipPath id="dh2"><rect x="334" y="230" width="52" height="160"/></clipPath><path d="M-513.1,230 L-673.1,390 M300,-689.9 L460,-529.9 M-482.1,230 L-642.1,390 M300,-658.9 L460,-498.9 M-451.1,230 L-611.1,390 M300,-627.9 L460,-467.9 M-420.1,230 L-580.1,390 M300,-596.9 L460,-436.9 M-389.1,230 L-549.1,390 M300,-565.9 L460,-405.9 M-358.1,230 L-518.1,390 M300,-534.9 L460,-374.9 M-327.1,230 L-487.1,390 M300,-503.9 L460,-343.9 M-296.1,230 L-456.1,390 M300,-472.9 L460,-312.9 M-265.1,230 L-425.1,390 M300,-441.9 L460,-281.9 M-234.1,230 L-394.1,390 M300,-410.9 L460,-250.9 M-203.1,230 L-363.1,390 M300,-379.9 L460,-219.9 M-172.1,230 L-332.1,390 M300,-348.9 L460,-188.9 M-141.1,230 L-301.1,390 M300,-317.9 L460,-157.9 M-110.1,230 L-270.1,390 M300,-286.9 L460,-126.9 M-79.1,230 L-239.1,390 M300,-255.9 L460,-95.9 M-48.1,230 L-208.1,390 M300,-224.9 L460,-64.9 M-17.1,230 L-177.1,390 M300,-193.9 L460,-33.9 M13.9,230 L-146.1,390 M300,-162.9 L460,-2.9 M44.9,230 L-115.1,390 M300,-131.9 L460,28.1 M75.9,230 L-84.1,390 M300,-100.9 L460,59.1 M106.9,230 L-53.1,390 M300,-69.9 L460,90.1 M137.9,230 L-22.1,390 M300,-38.9 L460,121.1 M168.9,230 L8.9,390 M300,-7.9 L460,152.1 M199.9,230 L39.9,390 M300,23.1 L460,183.1 M230.9,230 L70.9,390 M300,54.1 L460,214.1 M261.9,230 L101.9,390 M300,85.1 L460,245.1 M292.9,230 L132.9,390 M300,116.1 L460,276.1 M323.9,230 L163.9,390 M300,147.1 L460,307.1 M354.9,230 L194.9,390 M300,178.1 L460,338.1 M385.9,230 L225.9,390 M300,209.1 L460,369.1 M416.9,230 L256.9,390 M300,240.1 L460,400.1 M447.9,230 L287.9,390 M300,271.1 L460,431.1 M478.9,230 L318.9,390 M300,302.1 L460,462.1 M509.9,230 L349.9,390 M300,333.1 L460,493.1 M540.9,230 L380.9,390 M300,364.1 L460,524.1 M571.9,230 L411.9,390 M300,395.1 L460,555.1 M602.9,230 L442.9,390 M300,426.1 L460,586.1 M633.9,230 L473.9,390 M300,457.1 L460,617.1 M664.9,230 L504.9,390 M300,488.1 L460,648.1 M695.9,230 L535.9,390 M300,519.1 L460,679.1 M726.9,230 L566.9,390 M300,550.1 L460,710.1 M757.9,230 L597.9,390 M300,581.1 L460,741.1 M788.9,230 L628.9,390 M300,612.1 L460,772.1 M819.9,230 L659.9,390 M300,643.1 L460,803.1 M850.9,230 L690.9,390 M300,674.1 L460,834.1 M881.9,230 L721.9,390 M300,705.1 L460,865.1 M912.9,230 L752.9,390 M300,736.1 L460,896.1 M943.9,230 L783.9,390 M300,767.1 L460,927.1 M974.9,230 L814.9,390 M300,798.1 L460,958.1 M1005.9,230 L845.9,390 M300,829.1 L460,989.1 M1036.9,230 L876.9,390 M300,860.1 L460,1020.1 M1067.9,230 L907.9,390 M300,891.1 L460,1051.1 M1098.9,230 L938.9,390 M300,922.1 L460,1082.1 M1129.9,230 L969.9,390 M300,953.1 L460,1113.1 M1160.9,230 L1000.9,390 M300,984.1 L460,1144.1 M1191.9,230 L1031.9,390 M300,1015.1 L460,1175.1 M1222.9,230 L1062.9,390 M300,1046.1 L460,1206.1 M1253.9,230 L1093.9,390 M300,1077.1 L460,1237.1 M1284.9,230 L1124.9,390 M300,1108.1 L460,1268.1 M1315.9,230 L1155.9,390 M300,1139.1 L460,1299.1" stroke="#555" stroke-width="0.9" fill="none" clip-path="url(#dh2)"/><line x1="333.8" y1="230" x2="333.8" y2="390" stroke="#111" stroke-width="2"/><line x1="386" y1="230" x2="386" y2="390" stroke="#111" stroke-width="2"/><line x1="359.8" y1="230" x2="359.8" y2="293.9" stroke="#333" stroke-width="1.4"/><line x1="359.8" y1="303.3" x2="359.8" y2="311.7" stroke="#333" stroke-width="1.4"/><line x1="359.8" y1="321.1" x2="359.8" y2="390" stroke="#333" stroke-width="1.4"/></g>
<rect x="386.3" y="294.6" width="47.4" height="30.2" rx="1.8" fill="#fff" stroke="#111" stroke-width="1.8"/>
<clipPath id="hcl"><rect x="387" y="295.5" width="46" height="28.5"/></clipPath>
<path d="M380,294 l32,32 M383.2,294 l32,32 M386.4,294 l32,32 M389.6,294 l32,32 M392.8,294 l32,32 M396,294 l32,32 M399.2,294 l32,32 M402.4,294 l32,32 M405.6,294 l32,32 M408.8,294 l32,32 M412,294 l32,32 M415.2,294 l32,32 M418.4,294 l32,32 M421.6,294 l32,32 M424.8,294 l32,32 M428,294 l32,32 M431.2,294 l32,32 M434.4,294 l32,32 M437.6,294 l32,32 M440.8,294 l32,32 M444,294 l32,32 M447.2,294 l32,32 M450.4,294 l32,32 M453.6,294 l32,32 M456.8,294 l32,32 M460,294 l32,32 M463.2,294 l32,32 M466.4,294 l32,32 M469.6,294 l32,32 M472.8,294 l32,32" stroke="#666" stroke-width="0.7" clip-path="url(#hcl)"/>
<path d="M396.5,296 L410,296 L410,300 L404,302 L400,301 Z" fill="#fff" stroke="#111" stroke-width="1"/>
<rect x="387" y="303.5" width="20" height="11" fill="#fff"/>
<rect x="393" y="316" width="10" height="8" fill="#fff" stroke="#111" stroke-width="1"/>
<circle cx="419.6" cy="308.9" r="10.6" fill="#fff" stroke="#111" stroke-width="1.8"/>
<path d="M366.4,309.6 L369.5,306.6 L404,306.6 L404,312.6 L369.5,312.6 Z" fill="#fff" stroke="#111" stroke-width="1.6"/>
<path d="M403.3,297.5 L407.5,297.5 L411,301 L411,317 L407.5,320.5 L403.3,320.5 Z" fill="#111"/>
<path d="M371,312 l2.2,-5 M373.8,312 l2.2,-5 M376.6,312 l2.2,-5 M379.4,312 l2.2,-5 M382.2,312 l2.2,-5 M385,312 l2.2,-5 M387.8,312 l2.2,-5 M390.6,312 l2.2,-5 M393.4,312 l2.2,-5 M396.2,312 l2.2,-5 M399,312 l2.2,-5 M401.8,312 l2.2,-5" stroke="#555" stroke-width="0.7"/>
<line x1="408" y1="272" x2="441" y2="384" stroke="#555" stroke-width="0.9" />
<polygon points="412.9,294.2 408.52,285.04 411.89,284.1" fill="#111" stroke="none" stroke-width="0" />
<polygon points="423.5,324.8 427.88,333.96 424.51,334.9" fill="#111" stroke="none" stroke-width="0" />
<text transform="translate(359,470.2) scale(0.86,1)" x="0" y="0" font-size="17" fill="#151515" stroke="#151515" stroke-width="0.3" textLength="38.14" lengthAdjust="spacing" >А–А</text>
<g fill="none" stroke="#111" stroke-linecap="round" stroke-linejoin="round"><path transform="translate(368.4,487.2) scale(0.9486)" d="M1.15,4.80 A3.10,3.90 0 1 0 7.35,4.80 A3.10,3.90 0 1 0 1.15,4.80 Z M0.90,12.45 A3.35,4.15 0 1 0 7.60,12.45 A3.35,4.15 0 1 0 0.90,12.45 Z" stroke-width="2.056"/><path transform="translate(381.74,487.2) scale(0.9486)" d="M0.95,8.75 A3.30,7.80 0 1 0 7.55,8.75 A3.30,7.80 0 1 0 0.95,8.75 Z" stroke-width="2.056"/></g>
<line x1="330.4" y1="503.5" x2="330.4" y2="528" stroke="#111" stroke-width="1.1" />
<line x1="427.6" y1="503.5" x2="427.6" y2="528" stroke="#111" stroke-width="1.1" />
<line x1="330.4" y1="507.5" x2="427.6" y2="507.5" stroke="#111" stroke-width="1.1" />
<polygon points="330.4,507.5 343.9,505.1 343.9,509.9" fill="#111" stroke="none" stroke-width="0" />
<polygon points="427.6,507.5 414.1,509.9 414.1,505.1" fill="#111" stroke="none" stroke-width="0" />
<rect x="330.6" y="528.8" width="97" height="97.6" rx="2" fill="none" stroke="#111" stroke-width="2"/>
<rect x="335.2" y="533.2" width="87.9" height="88.7" fill="none" stroke="#111" stroke-width="3.2"/>
<rect x="335.2" y="533.2" width="87.9" height="88.7" fill="none" stroke="#9a9a9a" stroke-width="1.1" stroke-dasharray="4,1.5"/>
<line x1="331" y1="529.2" x2="335.2" y2="533.2" stroke="#fff" stroke-width="1.6" />
<line x1="427.2" y1="529.2" x2="423.1" y2="533.2" stroke="#fff" stroke-width="1.6" />
<line x1="331" y1="625.8" x2="335.2" y2="621.9" stroke="#fff" stroke-width="1.6" />
<line x1="427.2" y1="625.8" x2="423.1" y2="621.9" stroke="#fff" stroke-width="1.6" />
<rect x="355.8" y="553.9" width="46.8" height="47.1" rx="2" fill="none" stroke="#111" stroke-width="2.6"/>
<circle cx="345.4" cy="543.7" r="5" fill="#fff" stroke="#111" stroke-width="1.4"/>
<circle cx="412.3" cy="543.7" r="5" fill="#fff" stroke="#111" stroke-width="1.4"/>
<circle cx="345.4" cy="610.9" r="5" fill="#fff" stroke="#111" stroke-width="1.4"/>
<circle cx="412.3" cy="610.9" r="5" fill="#fff" stroke="#111" stroke-width="1.4"/>
<line x1="306" y1="528.6" x2="330" y2="528.6" stroke="#111" stroke-width="1.1" />
<line x1="306" y1="626.3" x2="330" y2="626.3" stroke="#111" stroke-width="1.1" />
<line x1="310.4" y1="528.6" x2="310.4" y2="568" stroke="#111" stroke-width="1.1" />
<line x1="310.4" y1="588" x2="310.4" y2="626.3" stroke="#111" stroke-width="1.1" />
<polygon points="310.4,528.6 312.8,542.1 308,542.1" fill="#111" stroke="none" stroke-width="0" />
<polygon points="310.4,626.3 308,612.8 312.8,612.8" fill="#111" stroke="none" stroke-width="0" />
<g fill="none" stroke="#111" stroke-linecap="round" stroke-linejoin="round"><path transform="translate(300.2,569.2) scale(0.9486)" d="M1.15,4.80 A3.10,3.90 0 1 0 7.35,4.80 A3.10,3.90 0 1 0 1.15,4.80 Z M0.90,12.45 A3.35,4.15 0 1 0 7.60,12.45 A3.35,4.15 0 1 0 0.90,12.45 Z" stroke-width="2.056"/><path transform="translate(312.84,569.2) scale(0.9486)" d="M0.95,8.75 A3.30,7.80 0 1 0 7.55,8.75 A3.30,7.80 0 1 0 0.95,8.75 Z" stroke-width="2.056"/></g>
<circle cx="460.5" cy="510.5" r="5.23" fill="none" stroke="#8a8a8a" stroke-width="1.3"/>
<line x1="466.2" y1="502.5" x2="454.8" y2="518.5" stroke="#8a8a8a" stroke-width="1.3" />
<g fill="none" stroke="#111" stroke-linecap="round" stroke-linejoin="round"><path transform="translate(471.84,501.6) scale(0.9714)" d="M2.2,4.2 L5.6,0.9 L5.6,16.6" stroke-width="2.007"/><path transform="translate(482.59,501.6) scale(0.9714)" d="M2.2,4.2 L5.6,0.9 L5.6,16.6" stroke-width="2.007"/></g>
<polyline points="487.9,521.8 447.5,521.8 384,561" fill="none" stroke="#5a5a5a" stroke-width="1" />
<polygon points="416.8,541.2 425.13,533.77 427.14,536.99" fill="#111" stroke="none" stroke-width="0" />
<polygon points="407,547 395.78,554.88 393.75,550.53" fill="#111" stroke="none" stroke-width="0" />
<polyline points="623.6,596.2 479,596.2 418.5,609.5" fill="none" stroke="#5a5a5a" stroke-width="1" />
<text transform="translate(479,544.1) scale(0.86,1)" x="0" y="0" font-size="17.5" fill="#151515" stroke="#151515" stroke-width="0.3" textLength="134.88" lengthAdjust="spacing" >Анкер болm с</text>
<text transform="translate(479,565.7) scale(0.86,1)" x="0" y="0" font-size="17.5" fill="#151515" stroke="#151515" stroke-width="0.3" textLength="180.81" lengthAdjust="spacing" >гаŭкоŭ М8x10x150,</text>
<text transform="translate(479,588.4) scale(0.86,1)" x="0" y="0" font-size="17.5" fill="#151515" stroke="#151515" stroke-width="0.3" textLength="121.51" lengthAdjust="spacing" >Арm. М-3129</text>
<polyline points="467,677 341,677 360.5,609" fill="none" stroke="#5a5a5a" stroke-width="1" />
<text transform="translate(349,671.6) scale(0.86,1)" x="0" y="0" font-size="17.5" fill="#151515" stroke="#151515" stroke-width="0.3" textLength="157.56" lengthAdjust="spacing" >Фланец 71x71x5</text>
<text transform="translate(349,694.4) scale(0.86,1)" x="0" y="0" font-size="17.5" fill="#151515" stroke="#151515" stroke-width="0.3" textLength="60.47" lengthAdjust="spacing" >k115-5</text>
<polyline points="482,735 307,735 353.5,586" fill="none" stroke="#5a5a5a" stroke-width="1" />
<polygon points="353.5,585 347.5,596 351.5,597" fill="#fff" stroke="#555" stroke-width="0.9" />
<text transform="translate(314.5,728) scale(0.86,1)" x="0" y="0" font-size="17.5" fill="#151515" stroke="#151515" stroke-width="0.3" textLength="170.35" lengthAdjust="spacing" >Точечная сϐарка</text>
<text transform="translate(314.5,750.4) scale(0.86,1)" x="0" y="0" font-size="17.5" fill="#151515" stroke="#151515" stroke-width="0.3" textLength="136.63" lengthAdjust="spacing" >ϐ 4-х месmах</text>
<line x1="285" y1="785.5" x2="860" y2="785.5" stroke="#f3f3f3" stroke-width="1.2" />
<g style="mix-blend-mode:multiply" font-weight="bold" font-size="100" stroke-linejoin="miter" stroke-miterlimit="3">
<g transform="translate(2,3)" fill="#000" stroke="#000" stroke-width="11" opacity="0.13" filter="url(#blur)"><text transform="translate(20.92,425.3) scale(1.29,1.104)" x="0" y="0">П</text><text transform="translate(119.3,425.3) scale(1.38,1.032)" x="0" y="0">е</text><text transform="translate(199.39,425.3) scale(1.3,1.032)" x="0" y="0">р</text><text transform="translate(281.51,425.3) scale(1.36,1.032)" x="0" y="0">и</text><text transform="translate(373.42,425.3) scale(1.14,1.032)" x="0" y="0">л</text><text transform="translate(449.26,425.3) scale(1.26,1.032)" x="0" y="0">а</text><text transform="translate(537.22,425.3) scale(1.26,1.104)" x="0" y="0">Г</text><text transform="translate(628.27,425.3) scale(1.09,1.032)" x="0" y="0">л</text><text transform="translate(705.81,425.3) scale(1.21,1.032)" x="0" y="0">а</text><text transform="translate(785.65,425.3) scale(1.12,1.032)" x="0" y="0">в</text><text transform="translate(862,425.3) scale(1.2,1.104)" x="0" y="0">С</text><text transform="translate(953.69,425.3) scale(1.37,1.032)" x="0" y="0">н</text><text transform="translate(1041.41,425.3) scale(1.21,1.032)" x="0" y="0">а</text><text transform="translate(1119.57,425.3) scale(1.23,1.055)" x="0" y="0">б</text></g>
<g fill="#dadada" stroke="#dadada" stroke-width="10.6"><text transform="translate(20.92,425.3) scale(1.29,1.104)" x="0" y="0">П</text><text transform="translate(119.3,425.3) scale(1.38,1.032)" x="0" y="0">е</text><text transform="translate(199.39,425.3) scale(1.3,1.032)" x="0" y="0">р</text><text transform="translate(281.51,425.3) scale(1.36,1.032)" x="0" y="0">и</text><text transform="translate(373.42,425.3) scale(1.14,1.032)" x="0" y="0">л</text><text transform="translate(449.26,425.3) scale(1.26,1.032)" x="0" y="0">а</text><text transform="translate(537.22,425.3) scale(1.26,1.104)" x="0" y="0">Г</text><text transform="translate(628.27,425.3) scale(1.09,1.032)" x="0" y="0">л</text><text transform="translate(705.81,425.3) scale(1.21,1.032)" x="0" y="0">а</text><text transform="translate(785.65,425.3) scale(1.12,1.032)" x="0" y="0">в</text><text transform="translate(862,425.3) scale(1.2,1.104)" x="0" y="0">С</text><text transform="translate(953.69,425.3) scale(1.37,1.032)" x="0" y="0">н</text><text transform="translate(1041.41,425.3) scale(1.21,1.032)" x="0" y="0">а</text><text transform="translate(1119.57,425.3) scale(1.23,1.055)" x="0" y="0">б</text></g>
<g transform="translate(0.9,1.2)" fill="#acacac" stroke="#acacac" stroke-width="8"><text transform="translate(20.92,425.3) scale(1.29,1.104)" x="0" y="0">П</text><text transform="translate(119.3,425.3) scale(1.38,1.032)" x="0" y="0">е</text><text transform="translate(199.39,425.3) scale(1.3,1.032)" x="0" y="0">р</text><text transform="translate(281.51,425.3) scale(1.36,1.032)" x="0" y="0">и</text><text transform="translate(373.42,425.3) scale(1.14,1.032)" x="0" y="0">л</text><text transform="translate(449.26,425.3) scale(1.26,1.032)" x="0" y="0">а</text><text transform="translate(537.22,425.3) scale(1.26,1.104)" x="0" y="0">Г</text><text transform="translate(628.27,425.3) scale(1.09,1.032)" x="0" y="0">л</text><text transform="translate(705.81,425.3) scale(1.21,1.032)" x="0" y="0">а</text><text transform="translate(785.65,425.3) scale(1.12,1.032)" x="0" y="0">в</text><text transform="translate(862,425.3) scale(1.2,1.104)" x="0" y="0">С</text><text transform="translate(953.69,425.3) scale(1.37,1.032)" x="0" y="0">н</text><text transform="translate(1041.41,425.3) scale(1.21,1.032)" x="0" y="0">а</text><text transform="translate(1119.57,425.3) scale(1.23,1.055)" x="0" y="0">б</text></g>
<g fill="#fff" stroke="#fff" stroke-width="8"><text transform="translate(20.92,425.3) scale(1.29,1.104)" x="0" y="0">П</text><text transform="translate(119.3,425.3) scale(1.38,1.032)" x="0" y="0">е</text><text transform="translate(199.39,425.3) scale(1.3,1.032)" x="0" y="0">р</text><text transform="translate(281.51,425.3) scale(1.36,1.032)" x="0" y="0">и</text><text transform="translate(373.42,425.3) scale(1.14,1.032)" x="0" y="0">л</text><text transform="translate(449.26,425.3) scale(1.26,1.032)" x="0" y="0">а</text><text transform="translate(537.22,425.3) scale(1.26,1.104)" x="0" y="0">Г</text><text transform="translate(628.27,425.3) scale(1.09,1.032)" x="0" y="0">л</text><text transform="translate(705.81,425.3) scale(1.21,1.032)" x="0" y="0">а</text><text transform="translate(785.65,425.3) scale(1.12,1.032)" x="0" y="0">в</text><text transform="translate(862,425.3) scale(1.2,1.104)" x="0" y="0">С</text><text transform="translate(953.69,425.3) scale(1.37,1.032)" x="0" y="0">н</text><text transform="translate(1041.41,425.3) scale(1.21,1.032)" x="0" y="0">а</text><text transform="translate(1119.57,425.3) scale(1.23,1.055)" x="0" y="0">б</text></g>
</g>
</svg></body></html>
